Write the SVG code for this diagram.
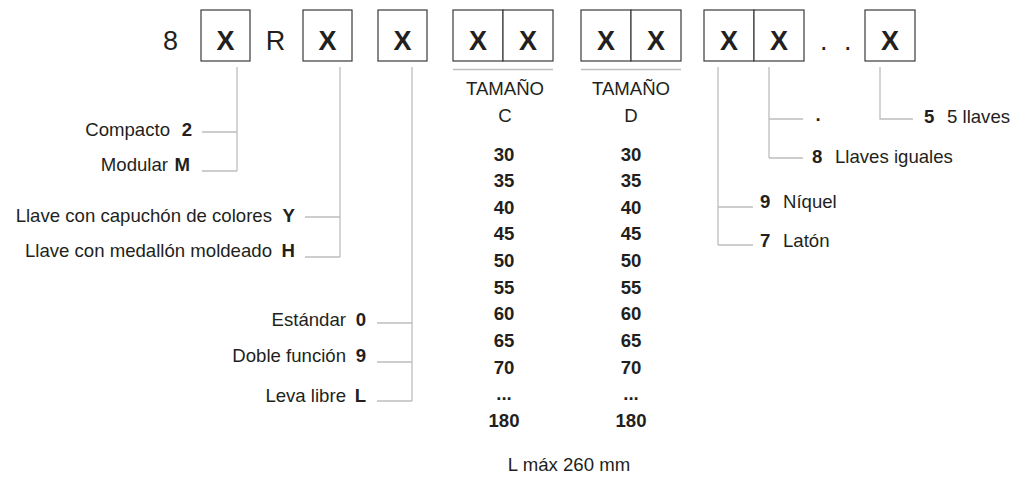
<svg xmlns="http://www.w3.org/2000/svg" width="1012" height="477" viewBox="0 0 1012 477">
<style>
text{font-family:"Liberation Sans",Arial,sans-serif;fill:#231f20;font-size:18.6px}
.b{font-weight:bold}
.big{font-size:27px}
.X{font-size:27px;font-weight:bold;text-anchor:middle}
.m{text-anchor:middle}
.e{text-anchor:end}
.box{fill:#fff;stroke:#3a3a3a;stroke-width:1.2}
.ln{fill:none;stroke:#bdbdbd;stroke-width:1.3}
</style>
<rect width="1012" height="477" fill="#fff"/>
<g id="code">
  <text class="big m" x="170.5" y="49.5">8</text>
  <g id="box1"><rect class="box" x="201" y="10" width="49" height="51"/><text class="X" x="225.5" y="49.5">X</text></g>
  <text class="big m" x="275.5" y="49.5">R</text>
  <g id="box2"><rect class="box" x="303" y="10" width="49" height="51"/><text class="X" x="327.5" y="49.5">X</text></g>
  <g id="box3"><rect class="box" x="378" y="10" width="49" height="51"/><text class="X" x="402.5" y="49.5">X</text></g>
  <g id="box4"><rect class="box" x="453" y="10" width="50" height="51"/><rect class="box" x="503" y="10" width="50" height="51"/><text class="X" x="478" y="49.5">X</text><text class="X" x="528" y="49.5">X</text></g>
  <g id="box5"><rect class="box" x="581" y="10" width="50" height="51"/><rect class="box" x="631" y="10" width="50" height="51"/><text class="X" x="606" y="49.5">X</text><text class="X" x="656" y="49.5">X</text></g>
  <g id="box6"><rect class="box" x="704" y="10" width="50" height="51"/><rect class="box" x="754" y="10" width="50" height="51"/><text class="X" x="729" y="49.5">X</text><text class="X" x="779" y="49.5">X</text></g>
  <text class="big"><tspan x="820" y="49.5">.</tspan><tspan x="844" y="49.5">.</tspan></text>
  <g id="box7"><rect class="box" x="865" y="10" width="50" height="51"/><text class="X" x="890" y="49.5">X</text></g>
</g>
<g id="connectors">
  <path class="ln" d="M453 69.5H553M581 69.5H681"/>
  <path class="ln" d="M237 67V171M202 132H237M202 171H237"/>
  <path class="ln" d="M340 67V257M305 217H340M305 257H340"/>
  <path class="ln" d="M412 67V401M377 323H412M377 362H412M377 401H412"/>
  <path class="ln" d="M718 67V245M718 207H753M718 245H753"/>
  <path class="ln" d="M769 67V158M769 119H803M769 158H803"/>
  <path class="ln" d="M880 67V119H913"/>
</g>
<g id="tipo">
  <text y="136"><tspan class="e" x="170">Compacto</tspan><tspan class="b e" x="192">2</tspan></text>
  <text y="171"><tspan class="e" x="168">Modular</tspan><tspan class="b e" x="190">M</tspan></text>
</g>
<g id="llave">
  <text y="222"><tspan class="e" x="272">Llave con capuchón de colores</tspan><tspan class="b e" x="295">Y</tspan></text>
  <text y="257"><tspan class="e" x="272">Llave con medallón moldeado</tspan><tspan class="b e" x="295">H</tspan></text>
</g>
<g id="leva">
  <text y="326"><tspan class="e" x="346">Estándar</tspan><tspan class="b e" x="366">0</tspan></text>
  <text y="362"><tspan class="e" x="346">Doble función</tspan><tspan class="b e" x="366">9</tspan></text>
  <text y="402"><tspan class="e" x="346">Leva libre</tspan><tspan class="b e" x="366">L</tspan></text>
</g>
<g id="tamanoC">
  <text class="m" x="505" y="95">TAMAÑO</text>
  <text class="m" x="505" y="122">C</text>
  <text class="m b" x="504"><tspan x="504" y="160.5">30</tspan><tspan x="504" y="187">35</tspan><tspan x="504" y="213.5">40</tspan><tspan x="504" y="240">45</tspan><tspan x="504" y="267">50</tspan><tspan x="504" y="293.5">55</tspan><tspan x="504" y="320">60</tspan><tspan x="504" y="347">65</tspan><tspan x="504" y="373.5">70</tspan><tspan x="504" y="400">...</tspan><tspan x="504" y="427">180</tspan></text>
</g>
<g id="tamanoD">
  <text class="m" x="631" y="95">TAMAÑO</text>
  <text class="m" x="631" y="122">D</text>
  <text class="m b" x="631"><tspan x="631" y="160.5">30</tspan><tspan x="631" y="187">35</tspan><tspan x="631" y="213.5">40</tspan><tspan x="631" y="240">45</tspan><tspan x="631" y="267">50</tspan><tspan x="631" y="293.5">55</tspan><tspan x="631" y="320">60</tspan><tspan x="631" y="347">65</tspan><tspan x="631" y="373.5">70</tspan><tspan x="631" y="400">...</tspan><tspan x="631" y="427">180</tspan></text>
</g>
<g id="lmax"><text class="m" x="569" y="471">L máx 260 mm</text></g>
<g id="acabado">
  <text y="208"><tspan class="b" x="760">9</tspan><tspan x="783">Níquel</tspan></text>
  <text y="247"><tspan class="b" x="760">7</tspan><tspan x="783">Latón</tspan></text>
</g>
<g id="llaves">
  <text class="b m" x="818" y="121">.</text>
  <text y="163"><tspan class="b" x="812">8</tspan><tspan x="835">Llaves iguales</tspan></text>
</g>
<g id="cantidad">
  <text y="123"><tspan class="b" x="924">5</tspan><tspan x="947">5 llaves</tspan></text>
</g>
</svg>
